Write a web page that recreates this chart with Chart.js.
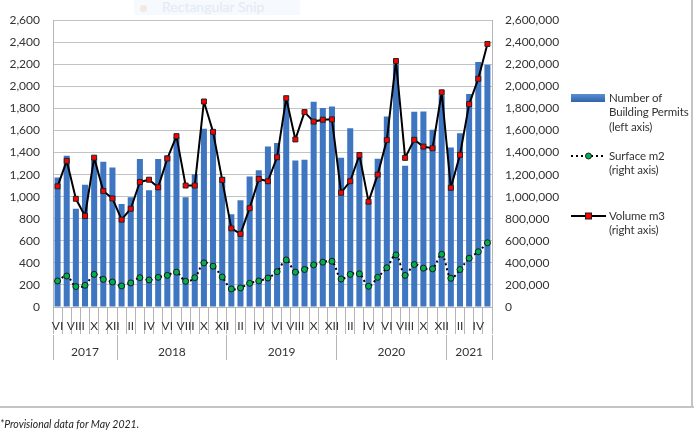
<!DOCTYPE html>
<html>
<head>
<meta charset="utf-8">
<script src="https://cdn.jsdelivr.net/npm/chart.js@4/dist/chart.umd.min.js"></script>
<style>
html,body{margin:0;padding:0;background:#fff;}
#wrap{position:relative;width:694px;height:436px;overflow:hidden;font-family:Lato,"Open Sans",sans-serif;color:#333;}
#c{position:absolute;left:0;top:0;}
.lg{position:absolute;font-size:11.5px;letter-spacing:-0.15px;line-height:14.5px;color:#333;white-space:nowrap;}
.ico{position:absolute;}
#foot{position:absolute;left:0;top:418px;font-size:10.5px;font-style:italic;color:#222;}
#bb{position:absolute;left:0;top:406px;width:694px;height:2px;background:#c4c4c4;}
#rb{position:absolute;left:691px;top:0;width:2px;height:408px;background:#c4c4c4;}
#snip{position:absolute;left:134px;top:0;width:166px;height:15px;background:#f6f9fd;}
#snipt{position:absolute;left:162px;top:-2px;font-size:14px;color:#e3eaf4;}
#snipd{position:absolute;left:140px;top:5px;width:7px;height:7px;border-radius:50%;background:#f3e9dc;}
</style>
</head>
<body>
<div id="wrap">
  <div id="snip"></div><div id="snipd"></div><div id="snipt">Rectangular Snip</div>
  <canvas id="c" width="694" height="436"></canvas>
  <div class="ico" style="left:571px;top:94px;width:34px;height:8px;background:linear-gradient(#5b8fd3,#2f62aa);"></div>
  <div class="lg" style="left:609px;top:90.5px;">Number of<br>Building Permits<br>(left axis)</div>
  <svg class="ico" style="left:569px;top:150px;" width="40" height="12"><line x1="2" y1="6" x2="37" y2="6" stroke="#000" stroke-width="2" stroke-dasharray="2,3"/><circle cx="19.5" cy="6" r="3" fill="#00b050" stroke="#222" stroke-width="1"/></svg>
  <div class="lg" style="left:609px;top:148.5px;">Surface m2<br>(right axis)</div>
  <svg class="ico" style="left:569px;top:210px;" width="40" height="12"><line x1="2" y1="6" x2="37" y2="6" stroke="#000" stroke-width="2"/><rect x="16.5" y="3" width="6" height="6" fill="#ff0000" stroke="#222" stroke-width="1"/></svg>
  <div class="lg" style="left:609px;top:208.5px;">Volume m3<br>(right axis)</div>
  <div id="bb"></div><div id="rb"></div>
  <div id="foot">*Provisional data for May 2021.</div>
</div>
<script>
const months = ['VI','VII','VIII','IX','X','XI','XII',
  'I','II','III','IV','V','VI','VII','VIII','IX','X','XI','XII',
  'I','II','III','IV','V','VI','VII','VIII','IX','X','XI','XII',
  'I','II','III','IV','V','VI','VII','VIII','IX','X','XI','XII',
  'I','II','III','IV','V'];
const years = ['2017','2018','2019','2020','2021'];
const yearStart = [0, 7, 19, 31, 43];

const permits = [1175,1372,891,1109,1345,1316,1265,
  933,996,1342,1058,1342,1375,1540,994,1203,1615,1600,1180,
  840,967,1182,1239,1454,1487,1870,1328,1334,1860,1803,1818,
  1352,1621,1360,950,1343,1728,2200,1281,1770,1773,1606,1920,
  1445,1576,1931,2221,2197];

const surface = [236000,281000,185000,197000,296000,251000,227000,
  191000,218000,266000,245000,269000,287000,316000,233000,266000,400000,370000,272000,
  164000,173000,215000,236000,263000,320000,427000,316000,340000,382000,406000,415000,
  254000,296000,301000,188000,269000,356000,472000,287000,385000,352000,346000,478000,
  260000,340000,442000,501000,582000];

const volume = [1094000,1325000,981000,825000,1354000,1052000,984000,
  792000,891000,1133000,1154000,1085000,1346000,1549000,1101000,1101000,1863000,1588000,1152000,
  713000,663000,896000,1161000,1140000,1358000,1893000,1519000,1767000,1681000,1698000,1701000,
  1036000,1140000,1378000,955000,1200000,1513000,2230000,1352000,1516000,1454000,1439000,1946000,
  1081000,1379000,1839000,2069000,2385000];

const leftMax = 2600, leftStep = 200;
const rightMax = 2600000, rightStep = 200000;

const n = months.length;
// half-month slots for the year row: slot j <-> month position (j/2 - 0.5)
const slots = Array.from({length: 2 * n + 1}, (_, j) => String(j));
const boundarySlots = yearStart.map(s => 2 * s).concat([2 * n]);
const centerSlots = yearStart.map((s, i) => {
  const end = (i + 1 < yearStart.length ? yearStart[i + 1] : n) - 1;
  return s + end + 1;
});

const FONT = {family: 'Lato, "Open Sans", sans-serif', size: 12};
const AX = '#b5b5b5';
const fmt = v => Number(v).toLocaleString('en-US');

new Chart(document.getElementById('c').getContext('2d'), {
  type: 'bar',
  data: {
    labels: months,
    datasets: [
      {type: 'line', label: 'Volume m3', data: volume, yAxisID: 'y1', xAxisID: 'x',
       borderColor: '#000', borderWidth: 2, tension: 0, borderJoinStyle: 'round',
       pointStyle: 'rect', pointRadius: 3.5, pointBackgroundColor: '#ff0000',
       pointBorderColor: '#222', pointBorderWidth: 1, order: 0},
      {type: 'line', label: 'Surface m2', data: surface, yAxisID: 'y1', xAxisID: 'x',
       borderColor: '#000', borderWidth: 2, borderDash: [2, 3], tension: 0.35,
       pointStyle: 'circle', pointRadius: 3, pointBackgroundColor: '#00b050',
       pointBorderColor: '#1a1a1a', pointBorderWidth: 1, order: 1},
      {label: 'Number of Building Permits', data: permits, yAxisID: 'y', xAxisID: 'x',
       backgroundColor: '#3f76c1', barPercentage: 0.66, categoryPercentage: 1, order: 2}
    ]
  },
  options: {
    responsive: false,
    animation: false,
    layout: {padding: {left: 0, right: 112, top: 17, bottom: 41}},
    plugins: {legend: {display: false}, tooltip: {enabled: false}},
    scales: {
      x: {
        type: 'category', position: 'bottom', weight: 0, offset: true,
        grid: {display: true, drawOnChartArea: false, offset: true, tickLength: 27, color: AX},
        border: {display: true, color: AX},
        ticks: {autoSkip: false, maxRotation: 0, minRotation: 0, padding: -15, color: '#333', font: FONT,
                callback: (v, i) => (i % 2 === 0 ? months[i] : '')},
        afterFit: s => { s.height = 28; }
      },
      x2: {
        type: 'category', labels: slots, position: 'bottom', weight: 1, offset: false,
        grid: {display: true, drawOnChartArea: false, offset: false, tickLength: 25,
               color: c => (boundarySlots.includes(c.index) ? AX : 'rgba(0,0,0,0)')},
        border: {display: false},
        ticks: {autoSkip: false, maxRotation: 0, minRotation: 0, padding: -15, color: '#333', font: FONT,
                callback: (v, i) => { const k = centerSlots.indexOf(i); return k >= 0 ? years[k] : ''; }},
        afterFit: s => { s.height = 60; }
      },
      y: {
        position: 'left', min: 0, max: leftMax,
        ticks: {stepSize: leftStep, padding: 13, color: '#333', font: FONT, callback: fmt},
        grid: {color: '#c3c3c3', drawTicks: false},
        border: {display: true, color: AX},
        afterFit: s => { s.width = 53; }
      },
      y1: {
        position: 'right', min: 0, max: rightMax,
        ticks: {stepSize: rightStep, padding: 13, color: '#333', font: FONT, callback: fmt},
        grid: {drawOnChartArea: false, drawTicks: false},
        border: {display: true, color: AX},
        afterFit: s => { s.width = 90; }
      }
    }
  }
});
</script>
</body>
</html>
